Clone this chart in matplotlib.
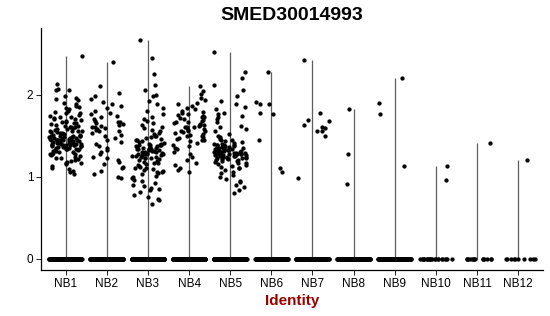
import numpy as np
import matplotlib
matplotlib.use("Agg")
import matplotlib.pyplot as plt

plt.rcParams["font.family"] = ["Liberation Sans", "DejaVu Sans"]

groups = ["NB1", "NB2", "NB3", "NB4", "NB5", "NB6",
          "NB7", "NB8", "NB9", "NB10", "NB11", "NB12"]

# non-zero expression values per group
nb1 = [2.47, 2.13, 2.07, 2.06, 2.05, 1.98, 1.96, 1.94, 1.93, 1.90, 1.88, 1.86,
       1.85, 1.83, 1.82, 1.80, 1.79, 1.78, 1.77, 1.75, 1.74, 1.73, 1.72, 1.71,
       1.70, 1.70, 1.69, 1.68, 1.67, 1.66, 1.65, 1.65, 1.64, 1.63, 1.62, 1.62,
       1.61, 1.60, 1.60, 1.59, 1.58, 1.58, 1.57, 1.56, 1.56, 1.55, 1.55, 1.54,
       1.54, 1.53, 1.53, 1.52, 1.52, 1.51, 1.51, 1.50, 1.50, 1.50, 1.49, 1.49,
       1.48, 1.48, 1.48, 1.47, 1.47, 1.47, 1.46, 1.46, 1.46, 1.45, 1.45, 1.45,
       1.45, 1.44, 1.44, 1.44, 1.44, 1.43, 1.43, 1.43, 1.43, 1.42, 1.42, 1.42,
       1.42, 1.41, 1.41, 1.41, 1.41, 1.40, 1.40, 1.40, 1.40, 1.39, 1.39, 1.39,
       1.38, 1.38, 1.38, 1.37, 1.37, 1.37, 1.36, 1.36, 1.36, 1.35, 1.35, 1.34,
       1.34, 1.33, 1.33, 1.32, 1.32, 1.31, 1.31, 1.30, 1.30, 1.29, 1.28, 1.28,
       1.27, 1.26, 1.25, 1.24, 1.23, 1.22, 1.21, 1.20, 1.19, 1.18, 1.17, 1.16,
       1.15, 1.13, 1.11, 1.09, 1.07, 1.05, 1.03]
nb2 = [2.40, 2.10, 2.02, 1.98, 1.94, 1.91, 1.88, 1.86, 1.83, 1.80, 1.78, 1.76,
       1.74, 1.72, 1.70, 1.68, 1.67, 1.66, 1.65, 1.64, 1.63, 1.62, 1.61, 1.60,
       1.59, 1.58, 1.57, 1.56, 1.55, 1.53, 1.51, 1.49, 1.47, 1.45, 1.42, 1.40,
       1.37, 1.35, 1.32, 1.30, 1.27, 1.24, 1.22, 1.20, 1.18, 1.15, 1.12, 1.10,
       1.07, 1.03, 1.00, 0.98]
nb3 = [2.67, 2.45, 2.25, 2.12, 2.05, 2.00, 1.98, 1.92, 1.88, 1.84, 1.80, 1.76,
       1.73, 1.70, 1.68, 1.65, 1.63, 1.61, 1.59, 1.57, 1.55, 1.53, 1.52, 1.50,
       1.49, 1.48, 1.47, 1.46, 1.45, 1.44, 1.43, 1.42, 1.41, 1.40, 1.40, 1.39,
       1.39, 1.38, 1.38, 1.37, 1.37, 1.36, 1.36, 1.35, 1.35, 1.34, 1.34, 1.33,
       1.33, 1.33, 1.32, 1.32, 1.31, 1.31, 1.30, 1.30, 1.30, 1.29, 1.29, 1.28,
       1.28, 1.27, 1.27, 1.26, 1.26, 1.25, 1.25, 1.24, 1.24, 1.23, 1.22, 1.22,
       1.21, 1.20, 1.19, 1.18, 1.17, 1.16, 1.15, 1.14, 1.13, 1.12, 1.11, 1.10,
       1.09, 1.08, 1.07, 1.06, 1.05, 1.04, 1.03, 1.01, 1.00, 0.98, 0.96, 0.94,
       0.92, 0.90, 0.88, 0.86, 0.85, 0.83, 0.81, 0.78, 0.75, 0.73, 0.71, 0.66]
nb4 = [2.10, 2.04, 2.01, 1.96, 1.93, 1.90, 1.88, 1.86, 1.84, 1.82, 1.80, 1.79,
       1.78, 1.76, 1.75, 1.74, 1.73, 1.72, 1.71, 1.70, 1.69, 1.68, 1.67, 1.66,
       1.65, 1.64, 1.63, 1.63, 1.62, 1.61, 1.60, 1.60, 1.59, 1.58, 1.57, 1.56,
       1.56, 1.55, 1.54, 1.53, 1.52, 1.51, 1.50, 1.49, 1.48, 1.47, 1.46, 1.45,
       1.44, 1.43, 1.41, 1.39, 1.37, 1.35, 1.33, 1.30, 1.27, 1.24, 1.20, 1.17,
       1.14, 1.10, 1.08, 1.05]
nb5 = [2.52, 2.28, 2.20, 2.12, 2.05, 1.98, 1.92, 1.88, 1.85, 1.82, 1.78, 1.76,
       1.74, 1.72, 1.70, 1.66, 1.62, 1.60, 1.58, 1.55, 1.52, 1.50, 1.48, 1.46,
       1.45, 1.44, 1.43, 1.42, 1.41, 1.40, 1.40, 1.39, 1.39, 1.38, 1.38, 1.37,
       1.37, 1.36, 1.36, 1.35, 1.35, 1.35, 1.34, 1.34, 1.34, 1.33, 1.33, 1.33,
       1.32, 1.32, 1.32, 1.31, 1.31, 1.31, 1.30, 1.30, 1.30, 1.30, 1.29, 1.29,
       1.29, 1.28, 1.28, 1.28, 1.28, 1.27, 1.27, 1.27, 1.26, 1.26, 1.26, 1.25,
       1.25, 1.25, 1.24, 1.24, 1.24, 1.23, 1.23, 1.22, 1.22, 1.21, 1.21, 1.20,
       1.20, 1.19, 1.19, 1.18, 1.17, 1.16, 1.15, 1.14, 1.13, 1.12, 1.11, 1.10,
       1.08, 1.06, 1.04, 1.02, 1.00, 0.97, 0.95, 0.93, 0.90, 0.87, 0.84, 0.80]
nb6 = [2.28, 1.91, 1.88, 1.88, 1.78, 1.76, 1.44, 1.10, 1.06]
nb7 = [2.42, 1.78, 1.69, 1.68, 1.63, 1.61, 1.59, 1.56, 1.55, 1.49, 0.98]
nb8 = [1.82, 1.27, 0.91]
nb9 = [2.20, 1.90, 1.76, 1.13]
nb10 = [1.13, 0.96]
nb11 = [1.41]
nb12 = [1.20]

# number of cells with zero expression in each group
zero_counts = [260, 240, 260, 250, 260, 200, 200, 190, 170, 22, 14, 10]

values = [nb1, nb2, nb3, nb4, nb5, nb6, nb7, nb8, nb9, nb10, nb11, nb12]

fig = plt.figure(figsize=(5.5, 3.16), dpi=100)
ax = fig.add_axes([0.0745, 0.1456, 0.9125, 0.7654])

rng = np.random.default_rng(3)
for i, (vals, nz) in enumerate(zip(values, zero_counts)):
    pos = i + 1
    ys = np.concatenate([np.zeros(nz), np.array(vals)])
    # violins collapse to a thin line since most cells are zero
    ax.vlines(pos, 0, ys.max(), color="#5e5e5e", linewidth=0.9, zorder=1)
    xs = pos + rng.uniform(-0.4, 0.4, len(ys))
    ax.scatter(xs, ys, s=9.5, color="black", linewidths=0, zorder=2)

ax.set_xlim(0.4, 12.6)
ax.set_ylim(-0.14, 2.81)
ax.set_xticks(range(1, 13))
ax.set_xticklabels(groups, fontsize=8.5)
ax.set_yticks([0, 1, 2])
ax.set_yticklabels(["0", "1", "2"], fontsize=8.5)
ax.tick_params(length=3.5, width=0.6, pad=2, colors="black")

for s in ["top", "right"]:
    ax.spines[s].set_visible(False)
for s in ["left", "bottom"]:
    ax.spines[s].set_linewidth(0.9)

ax.set_xlabel("Identity", fontsize=11, fontweight="bold", color="#990000", labelpad=3)
ax.set_title("SMED30014993", fontsize=14, fontweight="bold", pad=6)

fig.savefig("out.png", dpi=100)
